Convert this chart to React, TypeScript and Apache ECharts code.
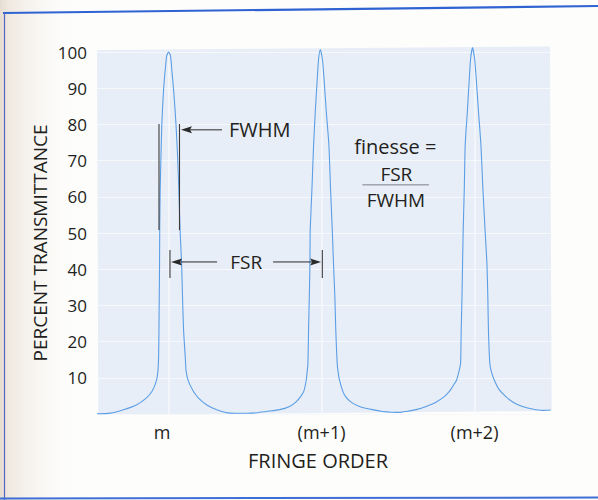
import React, { useEffect, useRef } from 'react';
import * as echarts from 'echarts';

// ---- axis ticks / labels ----
const xTickValues = [0, 1, 2];
const xTickLabels = ['m', '(m+1)', '(m+2)'];
const yTickValues = [10, 20, 30, 40, 50, 60, 70, 80, 90, 100];

// ---- curve: fringe order (x) and percent transmittance (y) ----
const fringeOrder = [
  // order m
  -0.468, -0.381, -0.294, -0.211, -0.146, -0.109, -0.081, -0.07, -0.065, -0.063,
  -0.061, -0.059, -0.058, -0.055, -0.05, -0.044, -0.033, -0.024, -0.013, 0.0,
  0.013, 0.023, 0.033, 0.048, 0.059, 0.067, 0.075, 0.085, 0.091, 0.098,
  0.108, 0.115, 0.13, 0.163, 0.196, 0.25, 0.315, 0.402, 0.511, 0.58,
  // order m+1
  0.639, 0.726, 0.791, 0.83, 0.863, 0.885, 0.9, 0.906, 0.911, 0.915,
  0.92, 0.924, 0.926, 0.937, 0.948, 0.959, 0.972, 0.98, 0.992, 1.006,
  1.016, 1.031, 1.048, 1.059, 1.07, 1.078, 1.087, 1.093, 1.102, 1.108,
  1.117, 1.138, 1.157, 1.195, 1.248, 1.333, 1.4, 1.46,
  // order m+2
  1.509, 1.553, 1.618, 1.683, 1.745, 1.802, 1.838, 1.866, 1.883, 1.898,
  1.909, 1.913, 1.918, 1.922, 1.926, 1.933, 1.939, 1.953, 1.966, 1.974,
  1.987, 2.001, 2.011, 2.026, 2.042, 2.055, 2.068, 2.081, 2.087, 2.091,
  2.1, 2.11, 2.129, 2.16, 2.205, 2.255, 2.313, 2.378, 2.444, 2.498,
];
const transmittance = [
  // order m
  0.05, 0.25, 1.2, 2.5, 4.4, 6.2, 9.0, 11.7, 16.4, 23.2,
  32.4, 41.7, 50.9, 61.9, 71.1, 80.3, 89.5, 94.1, 98.8, 100.0,
  98.8, 94.1, 89.5, 80.3, 71.1, 61.9, 50.9, 41.7, 32.4, 23.2,
  16.4, 11.7, 9.0, 6.2, 4.4, 2.5, 1.2, 0.25, 0.2, 0.35,
  // order m+1
  0.7, 1.2, 2.1, 3.2, 4.8, 6.4, 9.4, 11.7, 14.0, 23.2,
  32.4, 41.7, 50.9, 62.0, 74.3, 83.5, 92.7, 97.8, 100.7, 97.8,
  92.7, 83.5, 74.3, 62.0, 50.9, 41.7, 32.4, 23.2, 14.0, 11.7,
  9.4, 6.4, 4.8, 3.2, 2.1, 1.2, 0.7, 0.5,
  // order m+2
  0.45, 0.7, 1.2, 2.1, 3.2, 4.8, 6.4, 8.2, 9.4, 11.7,
  14.0, 23.2, 32.4, 41.7, 50.9, 62.0, 74.3, 83.5, 92.7, 98.0,
  101.2, 98.0, 92.7, 83.5, 74.3, 62.0, 51.5, 41.7, 32.4, 23.2,
  14.0, 11.7, 9.4, 6.8, 4.8, 3.2, 2.1, 1.4, 1.0, 1.1,
];

// ---- annotation anchors (data coordinates) ----
const fwhmBarOrders = [-0.0627, 0.0713];
const fwhmBarSpan = [50.8, 80.1];
const fwhmArrow = { tail: [0.349, 78.5], tip: [0.081, 78.5] };
const fwhmLabelAt = [0.395, 78.5];
const fsrBarOrders = [0.009, 1.005];
const fsrBarSpan = [37.6, 45.3];
const fsrArrows = [
  { tail: [0.317, 42.0], tip: [0.016, 42.0] },
  { tail: [0.683, 42.0], tip: [0.997, 42.0] },
];
const fsrLabelAt = [0.507, 42.0];
const finesseAt = [1.482, 73.8];
const fracTopAt = [1.489, 66.4];
const fracBar = { from: [1.267, 63.3], to: [1.702, 63.3] };
const fracBottomAt = [1.486, 59.1];

const FONT = '"Open Sans", "DejaVu Sans", sans-serif';
const INK = '#231f20';

export default function App() {
  const ref = useRef<HTMLDivElement>(null);

  useEffect(() => {
    const el = ref.current;
    if (!el) return;
    const chart = echarts.init(el, null, { renderer: 'svg' });
    const data = fringeOrder.map((x, i) => [x, transmittance[i]]);

    chart.setOption({
      animation: false,
      backgroundColor: '#fdfdfc',
      grid: { left: 97, right: 47, top: 52, bottom: 86, containLabel: false },
      xAxis: {
        type: 'value',
        min: -0.468,
        max: 2.5,
        axisLine: { show: false },
        axisTick: { show: false },
        splitLine: { show: false },
        axisLabel: {
          customValues: xTickValues,
          margin: 9,
          color: INK,
          fontSize: 18,
          fontFamily: FONT,
          formatter: (v: number) => {
            const i = xTickValues.indexOf(Math.round(v));
            if (i < 0) return '';
            return i === 0 ? '{m|' + xTickLabels[0] + '}' : xTickLabels[i];
          },
          rich: {
            m: { fontSize: 18, fontFamily: FONT, color: INK, padding: [0, 13, 0, 0] },
          },
        },
        name: 'FRINGE ORDER',
        nameLocation: 'middle',
        nameGap: 36,
        nameTextStyle: { fontSize: 20, fontFamily: FONT, color: INK, padding: [0, 12, 0, 0] },
      },
      yAxis: {
        type: 'value',
        min: 0,
        max: 100,
        interval: 10,
        axisLine: { show: false },
        axisTick: { show: false },
        splitLine: { show: true, lineStyle: { color: '#f6f8fc', width: 1.2 } },
        axisLabel: {
          margin: 10,
          color: INK,
          fontSize: 17,
          fontFamily: FONT,
          formatter: (v: number) => (yTickValues.indexOf(v) >= 0 ? String(v) : ''),
        },
      },
      series: [
        {
          type: 'line',
          data,
          symbol: 'none',
          showSymbol: false,
          smooth: 0.2,
          clip: false,
          lineStyle: { color: '#5b9ee6', width: 1.1 },
          markLine: {
            silent: true,
            z: 1,
            symbol: 'none',
            label: { show: false },
            lineStyle: { color: '#f6f8fc', width: 1.5, type: 'solid' },
            data: xTickValues.map((v) => ({ xAxis: v })),
          },
        },
      ],
    });

    const P = (pt: number[]) => chart.convertToPixel({ gridIndex: 0 }, pt) as number[];
    const barLine = (x: number, span: number[]) => {
      const a = P([x, span[0]]);
      const b = P([x, span[1]]);
      return {
        type: 'line',
        z: 20,
        shape: { x1: a[0], y1: a[1], x2: b[0], y2: b[1] },
        style: { stroke: '#3a3a3a', lineWidth: 1.1 },
      };
    };
    const arrow = (tailD: number[], tipD: number[]) => {
      const t = P(tailD);
      const p = P(tipD);
      const d = t[0] > p[0] ? 1 : -1;
      return [
        {
          type: 'line',
          z: 20,
          shape: { x1: t[0], y1: t[1], x2: p[0] + d * 9, y2: p[1] },
          style: { stroke: '#2a2a2a', lineWidth: 1 },
        },
        {
          type: 'polygon',
          z: 20,
          shape: {
            points: [
              [p[0], p[1]],
              [p[0] + d * 11, p[1] - 3.5],
              [p[0] + d * 9, p[1]],
              [p[0] + d * 11, p[1] + 3.5],
            ],
          },
          style: { fill: '#2a2a2a' },
        },
      ];
    };
    const label = (pt: number[], text: string, size: number, align: string) => {
      const q = P(pt);
      return {
        type: 'text',
        z: 20,
        x: q[0],
        y: q[1],
        style: {
          text,
          fontSize: size,
          fontFamily: FONT,
          fill: INK,
          align,
          verticalAlign: 'middle',
        },
      };
    };
    const fb0 = P(fracBar.from);
    const fb1 = P(fracBar.to);

    chart.setOption({
      graphic: [
        // page shading near the binding
        {
          type: 'rect',
          z: -20,
          shape: { x: 0, y: 0, width: 80, height: 500 },
          style: {
            fill: {
              type: 'linear',
              x: 0,
              y: 0,
              x2: 1,
              y2: 0,
              colorStops: [
                { offset: 0, color: '#e6ddd2' },
                { offset: 0.1, color: '#efe8df' },
                { offset: 1, color: 'rgba(253,253,252,0)' },
              ],
            },
          },
        },
        // plot panel (slightly skewed like the scan)
        {
          type: 'polygon',
          z: -10,
          shape: { points: [[97, 50], [550, 46.5], [551.7, 411], [98.3, 415]] },
          style: { fill: '#e8eef7' },
        },
        // blue frame lines
        { type: 'line', z: 30, shape: { x1: 3, y1: 13, x2: 598, y2: 6 }, style: { stroke: '#2f63d2', lineWidth: 2.2 } },
        { type: 'line', z: 30, shape: { x1: 4.5, y1: 13, x2: 4.5, y2: 500 }, style: { stroke: '#5566c4', lineWidth: 1.2 } },
        { type: 'line', z: 30, shape: { x1: 0, y1: 498.5, x2: 598, y2: 497.5 }, style: { stroke: '#3f6fd6', lineWidth: 2 } },
        // y axis title
        {
          type: 'text',
          z: 20,
          x: 40,
          y: 243,
          rotation: Math.PI / 2,
          style: {
            text: 'PERCENT TRANSMITTANCE',
            fontSize: 19,
            fontFamily: FONT,
            fill: INK,
            align: 'center',
            verticalAlign: 'middle',
          },
        },
        // FWHM marker
        ...fwhmBarOrders.map((x) => barLine(x, fwhmBarSpan)),
        ...arrow(fwhmArrow.tail, fwhmArrow.tip),
        label(fwhmLabelAt, 'FWHM', 20, 'left'),
        // FSR marker
        ...fsrBarOrders.map((x) => barLine(x, fsrBarSpan)),
        ...fsrArrows.flatMap((a) => arrow(a.tail, a.tip)),
        label(fsrLabelAt, 'FSR', 19, 'center'),
        // finesse formula
        label(finesseAt, 'finesse =', 20, 'center'),
        label(fracTopAt, 'FSR', 19, 'center'),
        {
          type: 'line',
          z: 20,
          shape: { x1: fb0[0], y1: fb0[1], x2: fb1[0], y2: fb1[1] },
          style: { stroke: '#7a7f88', lineWidth: 1 },
        },
        label(fracBottomAt, 'FWHM', 19, 'center'),
      ],
    });

    return () => chart.dispose();
  }, []);

  return <div ref={ref} style={{ position: 'fixed', left: 0, top: 0, width: 598, height: 500 }} />;
}
